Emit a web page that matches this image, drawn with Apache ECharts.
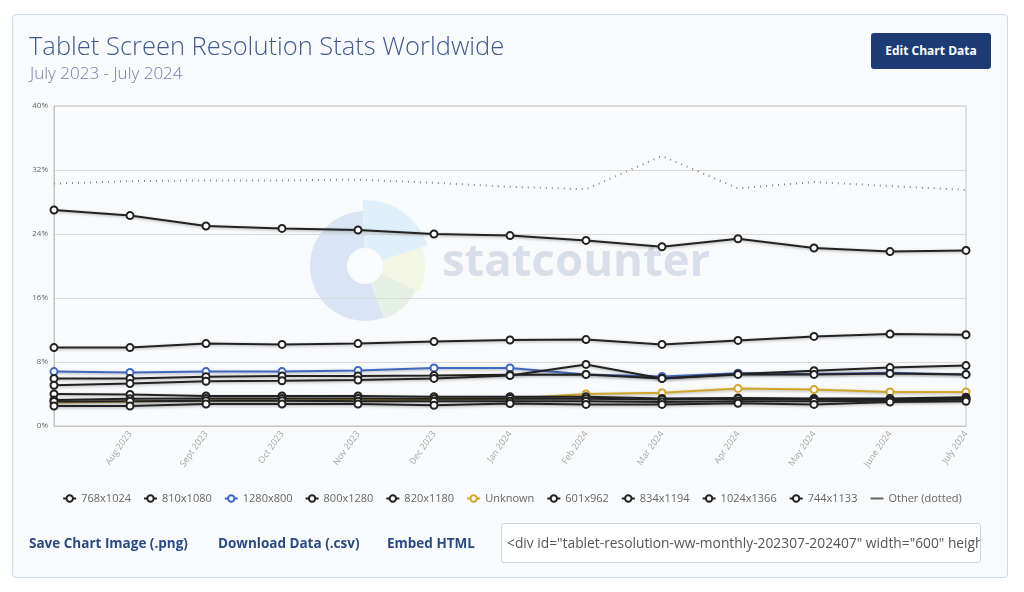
<!DOCTYPE html>
<html>
<head>
<meta charset="utf-8">
<style>
  body { margin: 0; width: 1024px; height: 592px; background: #fff; font-family: "Open Sans", sans-serif; position: relative; overflow: hidden; }
  #panel { position: absolute; left: 12px; top: 14px; width: 994px; height: 562px; border: 1px solid #cfd9e8; border-radius: 4px; background: #f9fafc; }
  #chart { position: absolute; left: 0; top: 0; width: 1024px; height: 592px; }
  .title { position: absolute; left: 29px; top: 28px; font-size: 25.5px; font-weight: 300; color: #3f5b8f; white-space: nowrap; }
  .sub { position: absolute; left: 30px; top: 61px; font-size: 17px; font-weight: 300; color: #6e81a9; white-space: nowrap; }
  .btn { position: absolute; left: 871px; top: 33px; width: 120px; height: 36px; background: #1d3b75; color: #fff; border-radius: 3px; font-size: 12px; font-weight: 700; line-height: 36px; text-align: center; }
  .link { position: absolute; top: 534px; font-size: 13.5px; font-weight: 700; color: #2b4a80; white-space: nowrap; }
  .embed { position: absolute; box-sizing: border-box; left: 501px; top: 523px; width: 480px; height: 40px; padding-left: 5px; border: 1px solid #cdd3dc; border-radius: 3px; background: #fff; font-size: 13.8px; color: #555; line-height: 38px; white-space: nowrap; overflow: hidden; }
</style>
</head>
<body>
<div id="panel"></div>
<div id="chart"></div>
<div class="title">Tablet Screen Resolution Stats Worldwide</div>
<div class="sub">July 2023 - July 2024</div>
<div class="btn">Edit Chart Data</div>
<div class="link" style="left:29px">Save Chart Image (.png)</div>
<div class="link" style="left:218px">Download Data (.csv)</div>
<div class="link" style="left:387px">Embed HTML</div>
<div class="embed">&lt;div id="tablet-resolution-ww-monthly-202307-202407" width="600" height="400" style="width:600px; height: 400px;"&gt;&lt;/div&gt;</div>
<script src="https://cdn.jsdelivr.net/npm/echarts@6.0.0/dist/echarts.min.js"></script>
<script>
var months = ['July 2023', 'Aug 2023', 'Sept 2023', 'Oct 2023', 'Nov 2023', 'Dec 2023', 'Jan 2024',
              'Feb 2024', 'Mar 2024', 'Apr 2024', 'May 2024', 'June 2024', 'July 2024'];

var r768x1024  = [27.0, 26.3, 25.0, 24.7, 24.5, 24.0, 23.8, 23.2, 22.4, 23.4, 22.25, 21.8, 21.95];
var r810x1080  = [9.8, 9.8, 10.3, 10.2, 10.3, 10.55, 10.75, 10.8, 10.2, 10.7, 11.2, 11.5, 11.4];
var r1280x800  = [6.8, 6.7, 6.8, 6.8, 6.95, 7.25, 7.25, 6.45, 6.2, 6.6, 6.5, 6.65, 6.45];
var r800x1280  = [5.95, 5.95, 6.15, 6.25, 6.25, 6.3, 6.4, 6.45, 5.95, 6.5, 6.9, 7.3, 7.55];
var r820x1180  = [5.1, 5.3, 5.6, 5.65, 5.75, 5.95, 6.3, 7.7, 5.95, 6.45, 6.45, 6.55, 6.45];
var unknown    = [2.95, 3.05, 3.2, 3.2, 3.25, 3.3, 3.4, 4.0, 4.15, 4.7, 4.55, 4.25, 4.25];
var r601x962   = [4.0, 3.95, 3.75, 3.75, 3.75, 3.65, 3.65, 3.65, 3.45, 3.5, 3.45, 3.45, 3.6];
var r834x1194  = [3.25, 3.4, 3.45, 3.45, 3.45, 3.4, 3.45, 3.4, 3.3, 3.4, 3.3, 3.35, 3.45];
var r1024x1366 = [3.05, 3.1, 3.15, 3.15, 3.1, 3.1, 3.1, 3.1, 3.0, 3.1, 3.1, 3.15, 3.3];
var r744x1133  = [2.5, 2.5, 2.75, 2.75, 2.75, 2.6, 2.8, 2.7, 2.7, 2.85, 2.7, 3.0, 3.1];
var other      = [30.3, 30.6, 30.7, 30.7, 30.8, 30.4, 29.9, 29.6, 33.75, 29.7, 30.5, 30.0, 29.5];

var names  = ['768x1024', '810x1080', '1280x800', '800x1280', '820x1180', 'Unknown',
              '601x962', '834x1194', '1024x1366', '744x1133'];
var values = [r768x1024, r810x1080, r1280x800, r800x1280, r820x1180, unknown,
              r601x962, r834x1194, r1024x1366, r744x1133];
var colors = ['#222', '#222', '#4168c0', '#222', '#222', '#d2a62a', '#222', '#222', '#222', '#222'];

var chart = echarts.init(document.getElementById('chart'));

var series = names.map(function (n, i) {
    return {
        name: n,
        type: 'line',
        data: values[i],
        symbol: 'emptyCircle',
        symbolSize: 7,
        color: colors[i],
        lineStyle: { width: 2, color: colors[i], shadowColor: 'rgba(0,0,0,0.3)', shadowBlur: 3, shadowOffsetY: 1 },
        itemStyle: { color: colors[i], borderWidth: 1.5 },
        z: 3
    };
});
series.push({
    name: 'Other (dotted)',
    type: 'line',
    data: other,
    symbol: 'none',
    color: '#777',
    lineStyle: { width: 2, type: [1, 5], color: '#888' },
    z: 3
});

var cx = 365, cy = 266;
function deg(a) { return a * Math.PI / 180; }

var option = {
    animation: false,
    textStyle: { fontFamily: 'Open Sans' },
    grid: { left: 54, right: 58, top: 106, bottom: 166, show: true, borderColor: '#c4c4c4', borderWidth: 1 },
    graphic: [
        { type: 'sector', z: 0, shape: { cx: cx, cy: cy, r0: 0, r: 55, startAngle: deg(70), endAngle: deg(268) }, style: { fill: '#d9e5f5' } },
        { type: 'sector', z: 0, shape: { cx: cx, cy: cy, r0: 0, r: 66, startAngle: deg(-92), endAngle: deg(-18) }, style: { fill: '#dff0fa' } },
        { type: 'sector', z: 0, shape: { cx: cx, cy: cy, r0: 0, r: 60, startAngle: deg(-18), endAngle: deg(25) }, style: { fill: '#f2f6e3' } },
        { type: 'sector', z: 0, shape: { cx: cx, cy: cy, r0: 0, r: 56, startAngle: deg(25), endAngle: deg(70) }, style: { fill: '#e5f1e4' } },
        { type: 'circle', z: 0, shape: { cx: cx, cy: cy, r: 18 }, style: { fill: '#fafbfd' } },
        { type: 'text', z: 0, style: { text: 'statcounter', x: 442, y: 263, verticalAlign: 'middle', font: 'bold 45.5px "Open Sans"', fill: '#d9dfea' } }
    ],
    legend: {
        top: 488,
        left: 'center',
        itemWidth: 13,
        itemHeight: 8,
        itemGap: 12,
        textStyle: { fontSize: 11, color: '#666' },
        data: names.concat([{ name: 'Other (dotted)', itemStyle: { opacity: 0 }, lineStyle: { type: 'solid', color: '#666' } }])
    },
    xAxis: {
        type: 'category',
        data: months,
        boundaryGap: false,
        axisLine: { lineStyle: { color: '#c4c4c4' } },
        axisTick: { show: false },
        axisLabel: {
            rotate: 55,
            fontSize: 9,
            color: '#a8a8a8',
            margin: 6,
            interval: function (index) { return index > 0; }
        },
        splitLine: { show: false }
    },
    yAxis: {
        type: 'value',
        min: 0,
        max: 40,
        interval: 8,
        axisLine: { show: true, lineStyle: { color: '#c4c4c4' } },
        axisTick: { show: false },
        axisLabel: { formatter: '{value}%', fontSize: 8, color: '#666', margin: 6 },
        splitLine: { lineStyle: { color: '#dadada' } }
    },
    series: series
};
chart.setOption(option);
</script>
</body>
</html>
